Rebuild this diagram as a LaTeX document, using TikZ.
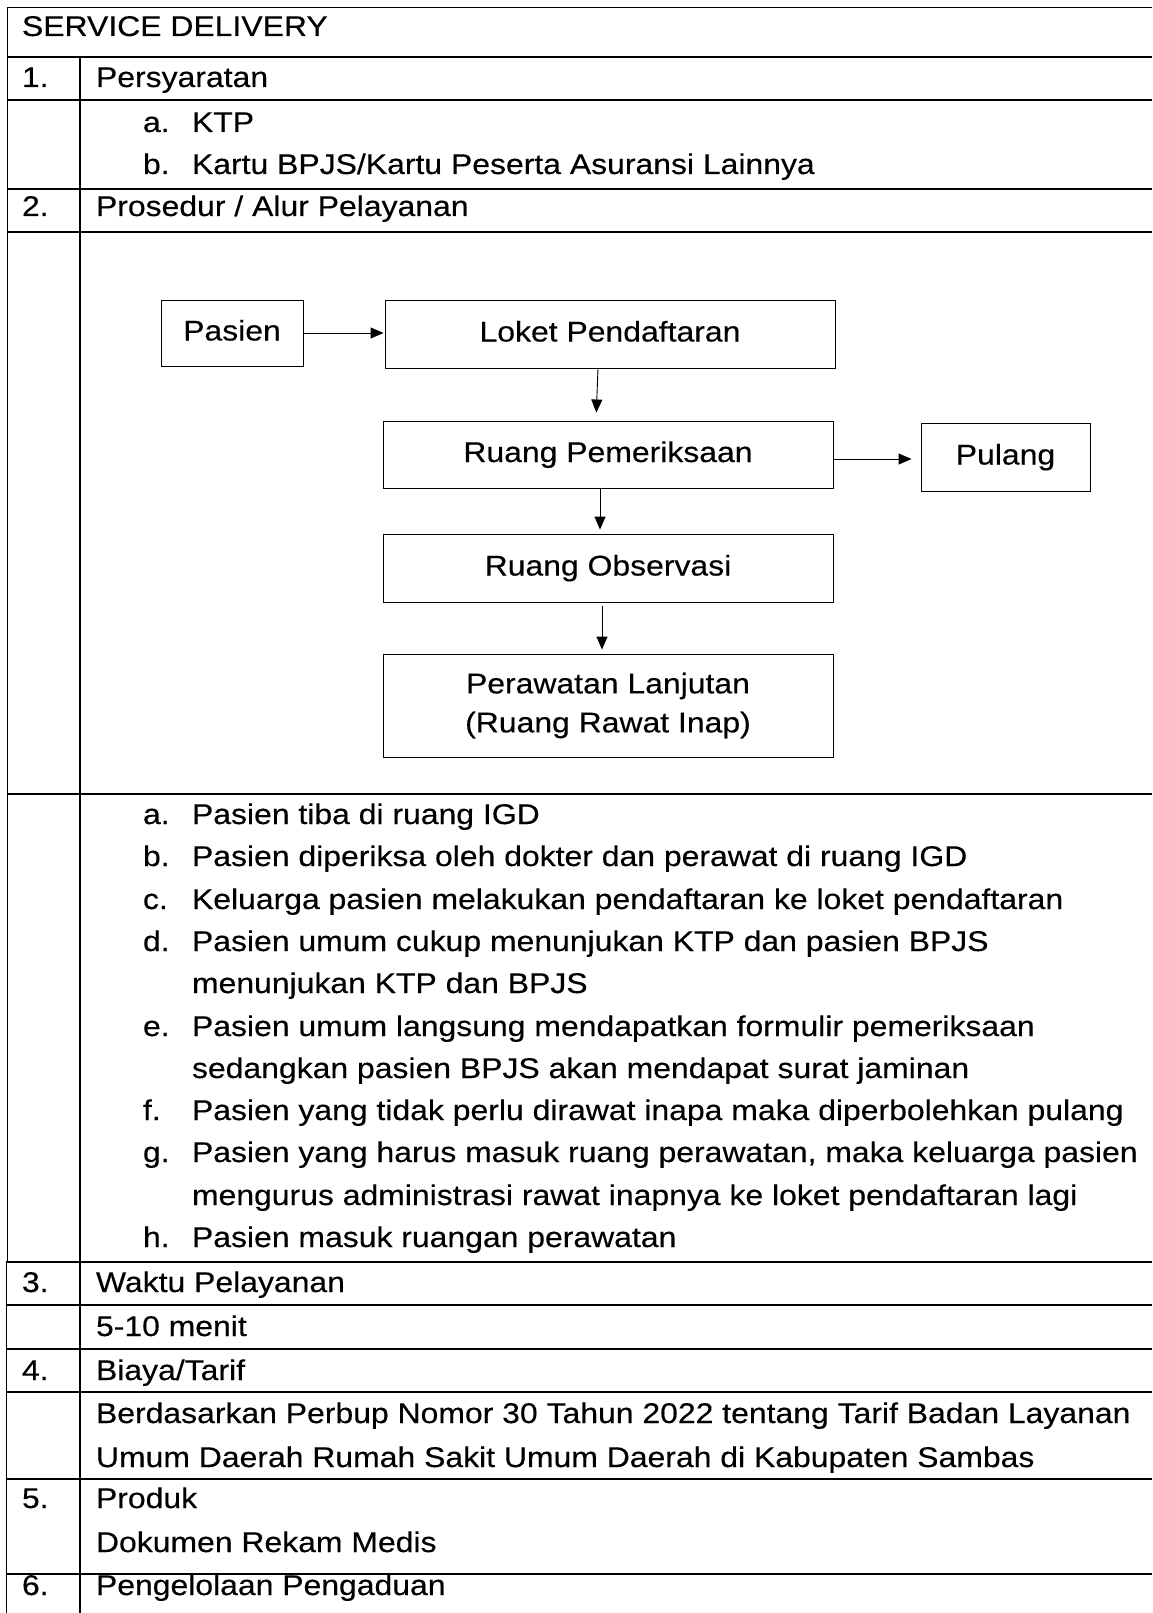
\documentclass[tikz,border=0pt]{standalone}
\usepackage{fontspec}
\setmainfont{Liberation Sans}[FakeStretch=1.12, FakeBold=0.3]
\usetikzlibrary{arrows.meta}
\newcommand{\bodysize}{\fontsize{28.5}{39}\selectfont}

\begin{document}
\begin{tikzpicture}[x=1pt,y=-1pt,
  rule/.style={line width=1.5pt},
  txt/.style={anchor=base west, inner sep=0pt, outer sep=0pt, font=\bodysize},
  fbox/.style={draw, line width=0.9pt, minimum width=450pt, minimum height=68pt,
               inner sep=0pt, align=center, font=\bodysize},
  oneline/.style={text height=21pt, text depth=6pt},
  flow/.style={line width=0.9pt, -{Triangle[length=13pt,width=11pt]}}
]
\useasboundingbox (0,0) rectangle (1152,1613);

% table frame
\draw[rule] (7.3,7.5) -- (1152,7.5);
\draw[rule] (7.3,7.5) -- (7.3,1262);
\draw[rule] (6.3,1262) -- (6.3,1613);
\draw[rule] (80,57) -- (80,1613);
\foreach \yy in {57,100,189,232,794}
  \draw[rule] (7.3,\yy) -- (1152,\yy);
\foreach \yy in {1262,1305,1349,1392,1479,1574}
  \draw[rule] (6.3,\yy) -- (1152,\yy);

% header and section 1
\node[txt] (title) at (22,36) {SERVICE DELIVERY};
\node[txt] (n1) at (22,87) {1.};
\node[txt] (h1) at (96,87) {Persyaratan};
\node[txt] (l1a) at (143,132) {a.};
\node[txt] (t1a) at (192,132) {KTP};
\node[txt] (l1b) at (143,174) {b.};
\node[txt] (t1b) at (192,174) {Kartu BPJS/Kartu Peserta Asuransi Lainnya};

% section 2
\node[txt] (n2) at (22,216) {2.};
\node[txt] (h2) at (96,216) {Prosedur / Alur Pelayanan};

% service flow
\node[fbox, oneline, minimum width=142pt, minimum height=66pt] (pasien) at (232,333) {Pasien};
\node[fbox, oneline] (loket) at (610,334) {Loket Pendaftaran};
\node[fbox, oneline, minimum height=67pt] (periksa) at (608,454.5) {Ruang Pemeriksaan};
\node[fbox, oneline, minimum width=169pt] (pulang) at (1005.5,457) {Pulang};
\node[fbox, oneline] (observasi) at (608,568) {Ruang Observasi};
\node[fbox, minimum height=103pt] (rawat) at (608,705.5) {Perawatan Lanjutan\\(Ruang Rawat Inap)};

\draw[flow, shorten >=1pt] (pasien.east) -- (pasien.east -| loket.west);
\draw[flow, shorten <=1pt, shorten >=8pt] ([xshift=-12pt]loket.south) -- ([xshift=-12pt]periksa.north);
\draw[flow, shorten >=9pt] ([yshift=-4.5pt]periksa.east) -- ([yshift=-4.5pt]periksa.east -| pulang.west);
\draw[flow, shorten <=1pt, shorten >=4pt] ([xshift=-8pt]periksa.south) -- ([xshift=-8pt]observasi.north);
\draw[flow, shorten <=4pt, shorten >=4pt] ([xshift=-6pt]observasi.south) -- ([xshift=-6pt]rawat.north);

% procedure steps
\node[txt] (l2a) at (143,824) {a.};
\node[txt] (t2a) at (192,824) {Pasien tiba di ruang IGD};
\node[txt] (l2b) at (143,866) {b.};
\node[txt] (t2b) at (192,866) {Pasien diperiksa oleh dokter dan perawat di ruang IGD};
\node[txt] (l2c) at (143,909) {c.};
\node[txt] (t2c) at (192,909) {Keluarga pasien melakukan pendaftaran ke loket pendaftaran};
\node[txt] (l2d) at (143,951) {d.};
\node[txt] (t2d) at (192,951) {Pasien umum cukup menunjukan KTP dan pasien BPJS};
\node[txt] (t2dd) at (192,993) {menunjukan KTP dan BPJS};
\node[txt] (l2e) at (143,1036) {e.};
\node[txt] (t2e) at (192,1036) {Pasien umum langsung mendapatkan formulir pemeriksaan};
\node[txt] (t2ee) at (192,1078) {sedangkan pasien BPJS akan mendapat surat jaminan};
\node[txt] (l2f) at (143,1120) {f.};
\node[txt] (t2f) at (192,1120) {Pasien yang tidak perlu dirawat inapa maka diperbolehkan pulang};
\node[txt] (l2g) at (143,1162) {g.};
\node[txt] (t2g) at (192,1162) {Pasien yang harus masuk ruang perawatan, maka keluarga pasien};
\node[txt] (t2gg) at (192,1205) {mengurus administrasi rawat inapnya ke loket pendaftaran lagi};
\node[txt] (l2h) at (143,1247) {h.};
\node[txt] (t2h) at (192,1247) {Pasien masuk ruangan perawatan};

% sections 3 to 6
\node[txt] (n3) at (22,1292) {3.};
\node[txt] (h3) at (96,1292) {Waktu Pelayanan};
\node[txt] (t3) at (96,1336) {5-10 menit};
\node[txt] (n4) at (22,1380) {4.};
\node[txt] (h4) at (96,1380) {Biaya/Tarif};
\node[txt] (t4a) at (96,1423) {Berdasarkan Perbup Nomor 30 Tahun 2022 tentang Tarif Badan Layanan};
\node[txt] (t4b) at (96,1467) {Umum Daerah Rumah Sakit Umum Daerah di Kabupaten Sambas};
\node[txt] (n5) at (22,1508) {5.};
\node[txt] (h5) at (96,1508) {Produk};
\node[txt] (t5) at (96,1552) {Dokumen Rekam Medis};
\node[txt] (n6) at (22,1595) {6.};
\node[txt] (h6) at (96,1595) {Pengelolaan Pengaduan};
\end{tikzpicture}
\end{document}
